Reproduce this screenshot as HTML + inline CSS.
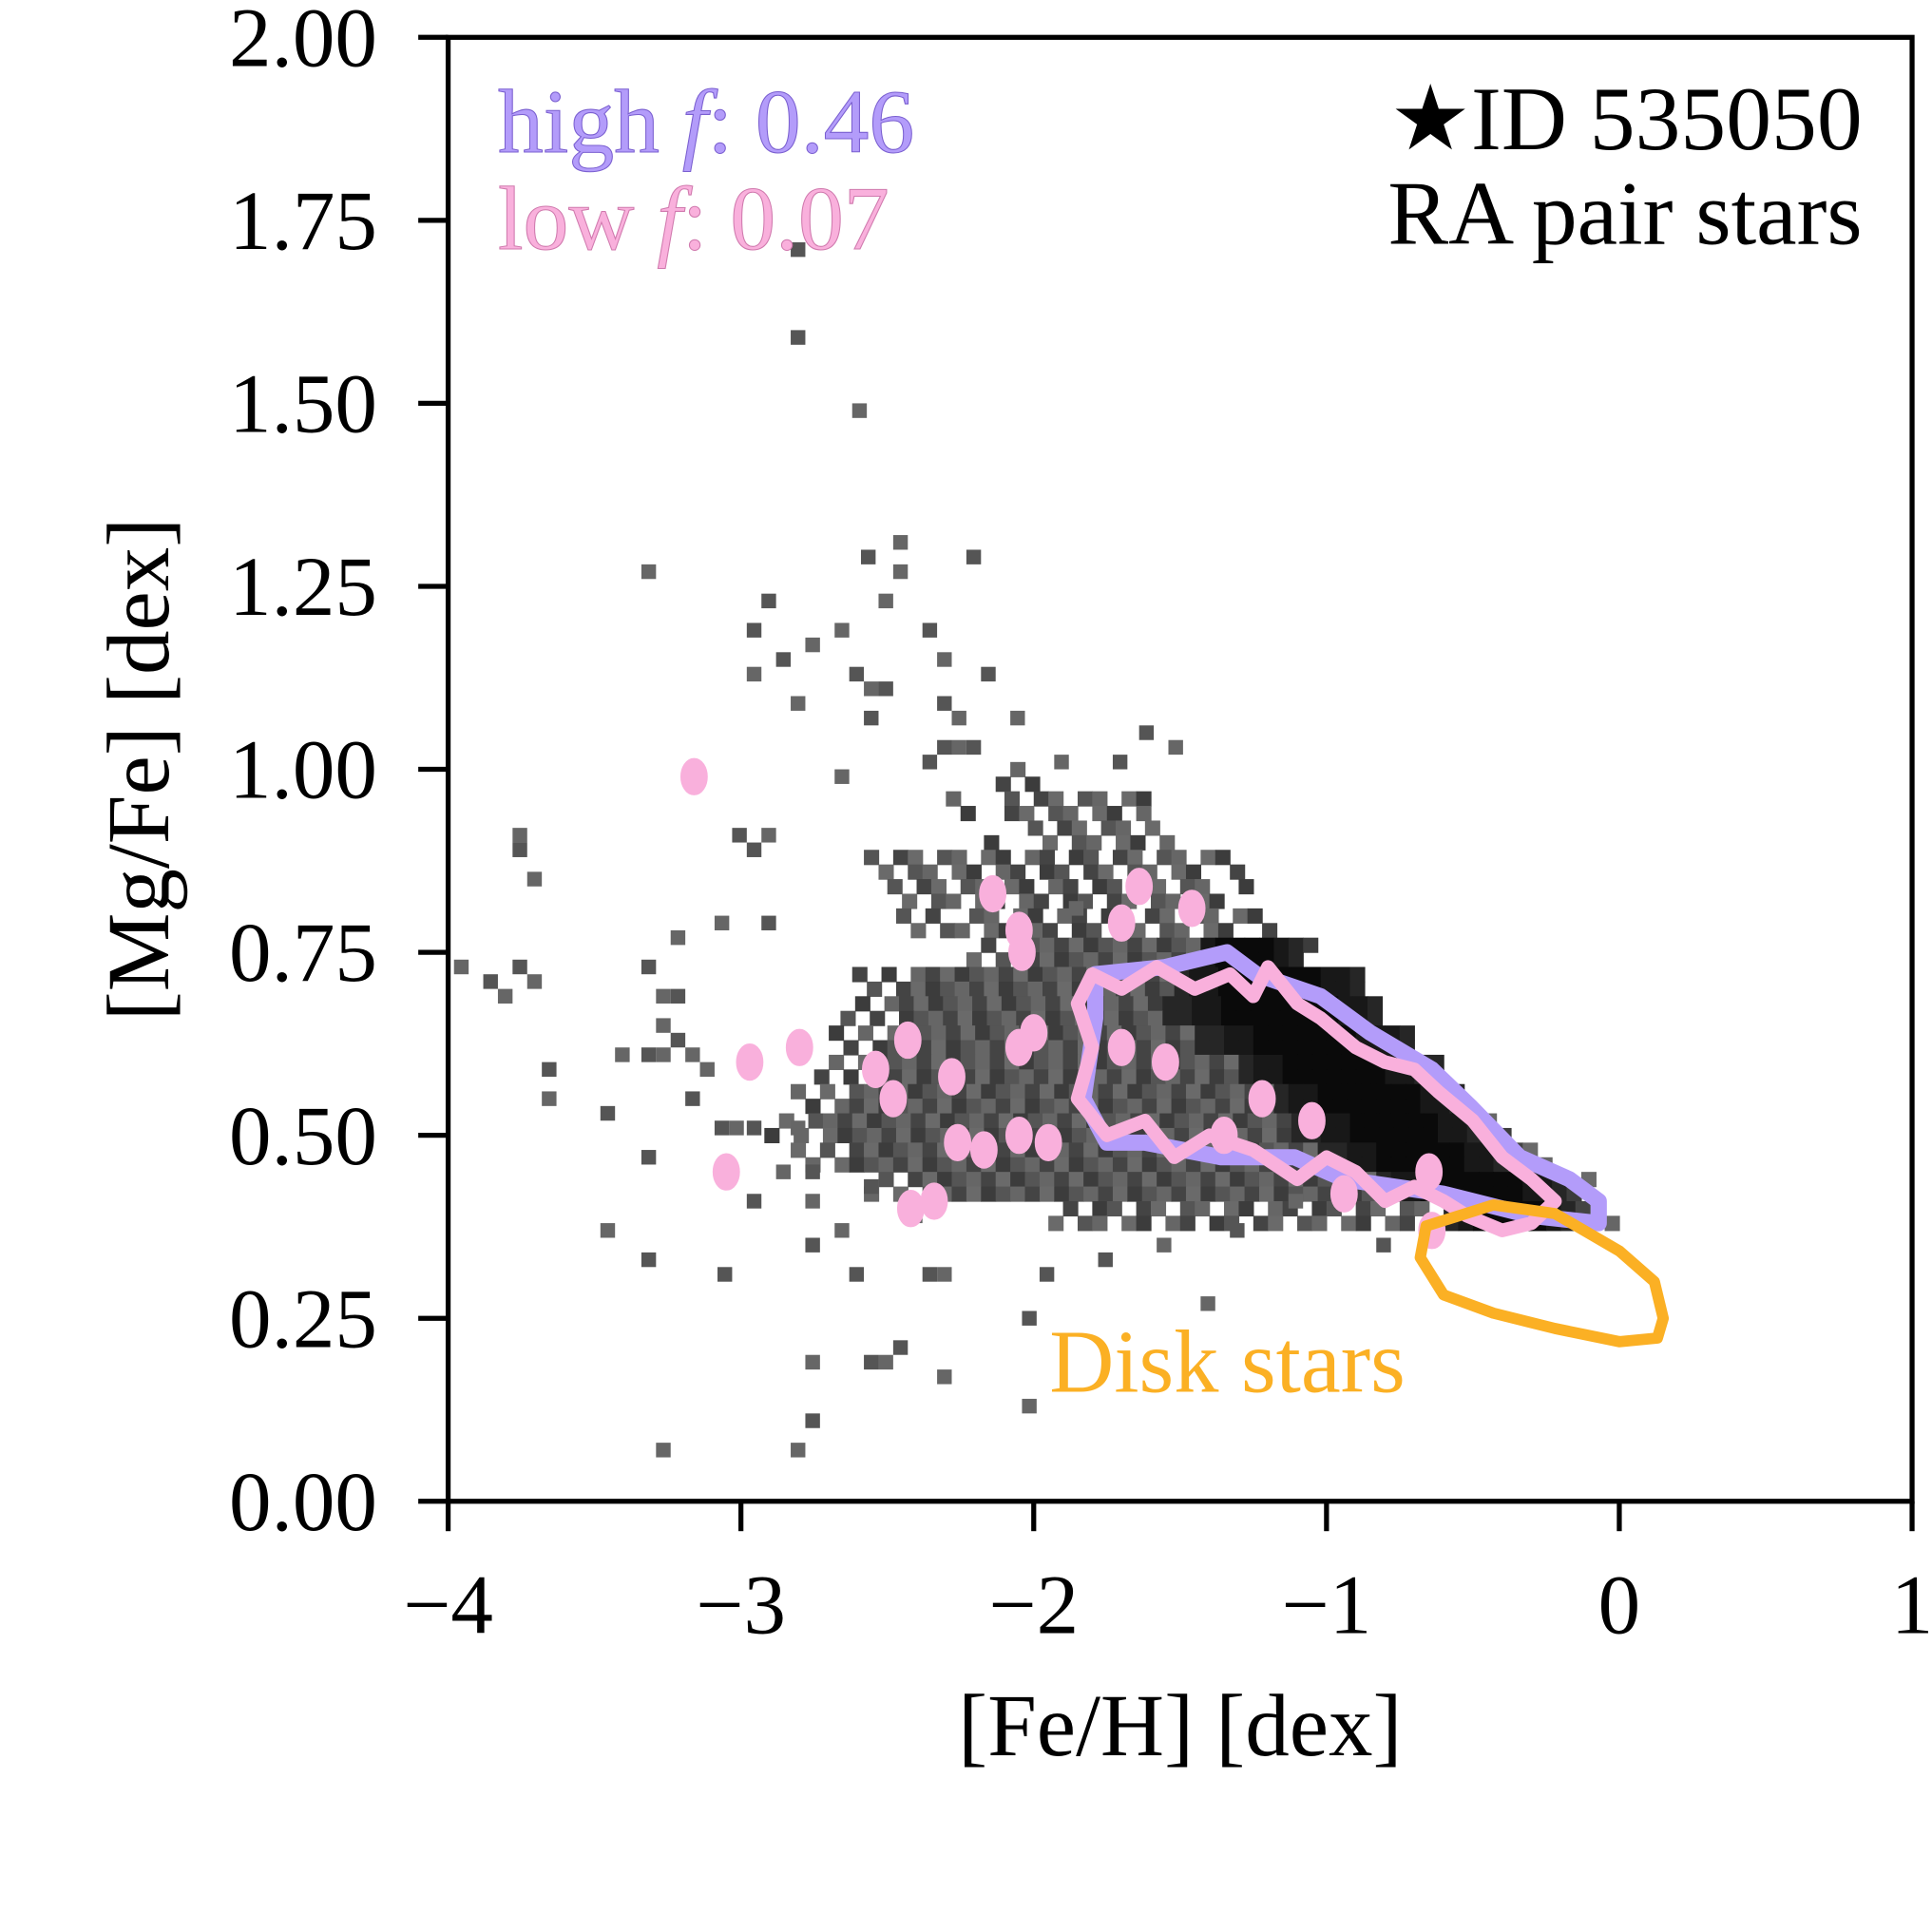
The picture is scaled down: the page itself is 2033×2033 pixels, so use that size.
<!DOCTYPE html>
<html><head><meta charset="utf-8">
<style>
html,body{margin:0;padding:0;background:#fff;}
svg{display:block;}
text{font-family:"Liberation Serif","DejaVu Serif",serif;}
</style></head>
<body>
<svg id="chart" width="2033" height="2033" viewBox="0 0 1552 1552" xmlns="http://www.w3.org/2000/svg">
<g id="cells"></g>
<g id="contours"></g>
<g id="axes"></g>
<text x="400" y="122" font-size="73" fill="#b39cfa" stroke="#7a5fd0" stroke-width="0.8">high <tspan font-style="italic">f</tspan>: 0.46</text>
<text x="400" y="200" font-size="73" fill="#f9b0dc" stroke="#d07aae" stroke-width="0.8">low <tspan font-style="italic">f</tspan>: 0.07</text>
<text x="1496" y="120" font-size="73" text-anchor="end" fill="#000">★ID 535050</text>
<text x="1496" y="196" font-size="73" text-anchor="end" fill="#000">RA pair stars</text>
<text x="843" y="1118" font-size="72" fill="#fbb024">Disk stars</text>
<text x="948" y="1410" font-size="71" text-anchor="middle">[Fe/H] [dex]</text>
<text transform="translate(135,618) rotate(-90)" font-size="71" text-anchor="middle">[Mg/Fe] [dex]</text>
</svg>
<script>
// sparse histogram cells [Fe/H], [Mg/Fe]
const sparseFe=[-2.83,-2.62,-2.83,-2.48,-2.59,-2.48,-2.23,-3.34,-2.93,-2.53,-2.98,-2.68,-2.38,-2.78,-2.88,-2.98,-2.63,-2.33,-2.18,-2.58,-2.53,-2.83,-2.33,-2.28,-2.58,-2.08,-1.64,-1.54,-2.33,-2.28,-2.23,-1.93,-1.73,-2.68,-2.38,-3.78,-3.78,-3.73,-3.03,-2.93,-2.98,-3.98,-3.88,-3.83,-3.78,-3.73,-3.68,-3.68,-3.48,-3.43,-3.34,-3.29,-3.34,-3.48,-3.34,-3.29,-2.98,-2.88,-2.78,-2.68,-2.63,-2.83,-2.78,-2.78,-2.58,-2.53,-2.48,-2.33,-2.38,-2.33,-2.04,-2.04,-1.98,-1.43,-3.08,-3.09,-2.93,-3.24,-3.34,-3.29,-3.24,-3.29,-3.24,-3.19,-3.19,-3.14,-3.09,-3.04,-2.98,-2.83,-2.78,-2.78,-2.58,-2.43,-0.83,-1.88,-1.78,-1.58,-1.33,-1.13];
const sparseMg=[1.59,1.49,1.71,1.31,1.29,1.27,1.29,1.27,1.23,1.23,1.19,1.19,1.19,1.17,1.15,1.13,1.13,1.15,1.13,1.11,1.11,1.09,1.09,1.07,1.07,1.07,1.05,1.03,1.03,1.03,1.03,1.01,1.01,0.99,1.01,0.91,0.89,0.85,0.91,0.91,0.89,0.73,0.71,0.69,0.73,0.71,0.59,0.55,0.53,0.61,0.61,0.61,0.47,0.37,0.33,0.07,0.41,0.45,0.35,0.37,0.31,0.07,0.11,0.19,0.19,0.19,0.21,0.17,0.31,0.31,0.25,0.13,0.31,0.27,0.31,0.79,0.79,0.77,0.73,0.69,0.69,0.65,0.63,0.61,0.55,0.59,0.51,0.51,0.51,0.51,0.45,0.41,0.43,0.39,0.35,0.81,0.33,0.35,0.37,0.41];
// dense region strips (each 0.04 dex tall): row centre, gray extent, dark-core extent
const stripMg=[0.99,0.95,0.91,0.87,0.83,0.79,0.75,0.71,0.67,0.63,0.59,0.55,0.51,0.47,0.43,0.39];
const stripFe0=[-2.13,-2.30,-2.17,-2.68,-2.55,-2.47,-2.23,-2.62,-2.66,-2.70,-2.75,-2.83,-2.92,-2.83,-2.58,-2.00];
const stripFe1=[-1.87,-1.50,-1.45,-1.28,-1.24,-1.15,-1.02,-0.89,-0.81,-0.72,-0.59,-0.51,-0.38,-0.21,-0.08,0.00];
const coreFe0=[0,0,0,0,0,0,-1.47,-1.56,-1.56,-1.47,-1.34,-1.22,-1.13,-1.04,-0.87,-0.62];
const coreFe1=[0,0,0,0,0,0,-1.13,-0.89,-0.81,-0.72,-0.64,-0.55,-0.47,-0.38,-0.21,-0.17];
// contours
const purpleFe=[-1.79,-1.55,-1.34,-1.24,-1.02,-0.85,-0.64,-0.51,-0.34,-0.17,-0.07,-0.07,-0.30,-0.60,-0.94,-1.11,-1.36,-1.62,-1.75,-1.83,-1.79];
const purpleMg=[0.72,0.73,0.75,0.72,0.69,0.64,0.59,0.54,0.47,0.44,0.41,0.38,0.39,0.42,0.44,0.47,0.47,0.49,0.49,0.55,0.66];
const pinkFe=[-1.80,-1.70,-1.58,-1.45,-1.33,-1.25,-1.20,-1.10,-1.02,-0.90,-0.80,-0.70,-0.62,-0.50,-0.40,-0.30,-0.22,-0.30,-0.40,-0.52,-0.60,-0.70,-0.80,-0.90,-1.00,-1.10,-1.25,-1.40,-1.52,-1.62,-1.75,-1.85,-1.80,-1.85];
const pinkMg=[0.72,0.70,0.73,0.70,0.72,0.69,0.73,0.68,0.66,0.62,0.60,0.59,0.56,0.52,0.47,0.44,0.41,0.38,0.37,0.39,0.41,0.43,0.41,0.45,0.47,0.44,0.48,0.50,0.47,0.52,0.50,0.55,0.62,0.68];
const blobFe=[-3.16,-2.14,-1.64,-1.46,-1.70,-2.05,-2.04,-2.00,-2.05,-2.43,-2.54,-2.48,-2.28,-2.26,-2.17,-2.05,-1.95,-3.05,-2.42,-2.34,-2.80,-2.97,-0.65,-0.64,-0.94,-1.35,-1.70,-1.55,-1.22,-1.05];
const blobMg=[0.99,0.83,0.84,0.81,0.79,0.78,0.75,0.64,0.62,0.63,0.59,0.55,0.58,0.49,0.48,0.50,0.49,0.45,0.40,0.41,0.62,0.60,0.45,0.37,0.42,0.50,0.62,0.60,0.55,0.52];
const diskFe=[-0.66,-0.43,-0.22,0.00,0.12,0.15,0.13,0.00,-0.22,-0.43,-0.60,-0.68,-0.66];
const diskMg=[0.376,0.405,0.393,0.342,0.30,0.25,0.223,0.218,0.236,0.257,0.282,0.333,0.376];
const xTicks=[-4,-3,-2,-1,0,1];
const xTickLabels=["\u22124","\u22123","\u22122","\u22121","0","1"];
const yTicks=[0,0.25,0.5,0.75,1.0,1.25,1.5,1.75,2.0];
const yTickLabels=["0.00","0.25","0.50","0.75","1.00","1.25","1.50","1.75","2.00"];

const L=360,R=1536,T=30,B=1206;
const X=v=>L+(v+4)/5*(R-L);
const Y=v=>B-v/2*(B-T);
const NS="http://www.w3.org/2000/svg";
function mk(tag,attrs,parent){const e=document.createElementNS(NS,tag);for(const k in attrs)e.setAttribute(k,attrs[k]);parent.appendChild(e);return e;}
const cells=document.getElementById('cells');
const cw=X(0.05)-X(0), ch=Y(0)-Y(0.02);
const grays=["#555","#666","#444","#6a6a6a","#3c3c3c"];
for(let r=0;r<stripMg.length;r++){
  const n=Math.round((stripFe1[r]-stripFe0[r])/0.05);
  for(let sub=0;sub<2;sub++){
    const mg=stripMg[r]+(sub?-0.01:0.01);
    for(let i=0;i<n;i++){
      const fe=stripFe0[r]+i*0.05;
      const inCore=coreFe1[r]>coreFe0[r]&&fe>=coreFe0[r]&&fe<=coreFe1[r];
      const edge=(i<4||i>n-3)&&!inCore;
      if(edge&&((i+sub+r)%2===0))continue;
      if(!inCore&&r<6&&((i+2*sub+r)%3===0))continue;
      if(!inCore&&r===15&&((i+sub)%3===0))continue;
      let col;
      if(inCore){const mid=(coreFe0[r]+coreFe1[r])/2,w=(coreFe1[r]-coreFe0[r])/2;const d=Math.abs(fe-mid)/w;col=d<0.5?"#0a0a0a":(d<0.8?"#181818":"#262626");}
      else col=grays[(i+sub*2+r)%grays.length];
      const c=mk('rect',{x:X(fe),y:Y(mg)-ch/2,width:cw+0.5,height:ch+0.5,fill:col},cells);
      
      
    }
  }
}
for(let i=0;i<sparseFe.length;i++){
  const c=mk('rect',{x:X(sparseFe[i]),y:Y(sparseMg[i])-ch/2,width:cw,height:ch,fill:grays[i%2]},cells);
  
  
}
const con=document.getElementById('contours');
function poly(fe,mg,color,w,name){
  let d="";for(let i=0;i<fe.length;i++)d+=(i?"L":"M")+X(fe[i]).toFixed(1)+","+Y(mg[i]).toFixed(1);
  const p=mk('path',{d:d+"Z",fill:"none",stroke:color,"stroke-width":w,"stroke-linejoin":"round"},con);
  
  
}
poly(purpleFe,purpleMg,"#b39cfa",13,"high-f-contour");
poly(pinkFe,pinkMg,"#f9b0dc",11,"low-f-contour");
for(let i=0;i<blobFe.length;i++){
  const e=mk('ellipse',{cx:X(blobFe[i]),cy:Y(blobMg[i]),rx:8,ry:12,fill:"#f9b0dc",stroke:"#f9b0dc","stroke-width":6},con);
  
  
}
poly(diskFe,diskMg,"#fbb024",9,"disk-contour");
const ax=document.getElementById('axes');
const frame=mk('rect',{x:L,y:T,width:R-L,height:B-T,fill:"none",stroke:"#000","stroke-width":4},ax);


xTicks.forEach((v,i)=>{
  const t=mk('line',{x1:X(v),x2:X(v),y1:B,y2:B+24,stroke:"#000","stroke-width":4},ax);
  
  
  const s=mk('text',{x:X(v),y:B+106,"font-size":68,"text-anchor":"middle"},ax);
  s.textContent=xTickLabels[i];
  
  
});
yTicks.forEach((v,i)=>{
  const t=mk('line',{x1:L-24,x2:L,y1:Y(v),y2:Y(v),stroke:"#000","stroke-width":4},ax);
  
  
  const s=mk('text',{x:303,y:Y(v)+23,"font-size":68,"text-anchor":"end"},ax);
  s.textContent=yTickLabels[i];
  
  
});
</script>
</body></html>
